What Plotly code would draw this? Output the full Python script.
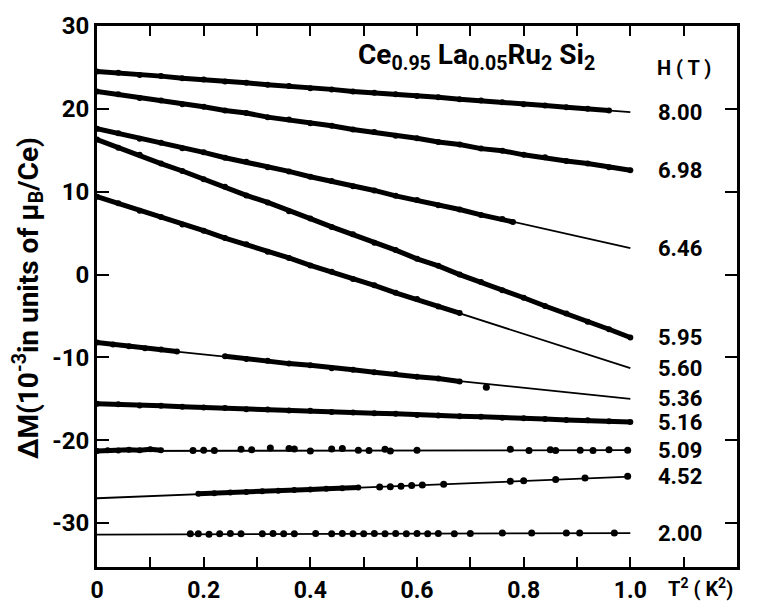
import plotly.graph_objects as go

# ---------------- data ----------------
fields = ["8.00", "6.98", "6.46", "5.95", "5.60", "5.36", "5.16", "5.09", "4.52", "2.00"]
fit_y0 = [24.5, 22.1, 17.6, 16.3, 9.4, -8.3, -15.6, -21.3, -27.0, -31.4]   # fit line at T^2 = 0
fit_y1 = [19.6, 12.6, 3.2, -7.6, -11.3, -15.0, -17.8, -21.2, -24.4, -31.2]  # fit line at T^2 = 1

# dense measured bands
h800_x = [0.00, 0.04, 0.08, 0.12, 0.16, 0.20, 0.24, 0.28, 0.32, 0.36, 0.40, 0.44, 0.48,
          0.52, 0.56, 0.60, 0.64, 0.68, 0.72, 0.76, 0.80, 0.84, 0.88, 0.92, 0.96]
h800_y = [24.5, 24.35, 24.1, 23.95, 23.7, 23.55, 23.3, 23.15, 22.9, 22.75, 22.5, 22.35, 22.1,
          21.95, 21.75, 21.55, 21.4, 21.15, 21.0, 20.8, 20.55, 20.4, 20.2, 20.0, 19.8]

h698_x = [0.00, 0.04, 0.08, 0.12, 0.16, 0.20, 0.24, 0.28, 0.32, 0.36, 0.40, 0.44, 0.48,
          0.52, 0.56, 0.60, 0.64, 0.68, 0.72, 0.76, 0.80, 0.84, 0.88, 0.92, 0.96, 1.00]
h698_y = [22.1, 21.75, 21.3, 21.0, 20.55, 20.25, 19.8, 19.5, 19.0, 18.7, 18.25, 17.95, 17.5,
          17.2, 16.75, 16.45, 16.0, 15.7, 15.2, 14.95, 14.45, 14.15, 13.7, 13.4, 12.95, 12.6]

h646_x = [0.00, 0.04, 0.08, 0.12, 0.16, 0.20, 0.24, 0.28, 0.32, 0.36, 0.40, 0.44, 0.48,
          0.52, 0.56, 0.60, 0.64, 0.68, 0.72, 0.76, 0.78]
h646_y = [17.6, 17.05, 16.4, 15.9, 15.25, 14.75, 14.1, 13.6, 12.95, 12.45, 11.8, 11.3, 10.65,
          10.15, 9.5, 9.0, 8.35, 7.85, 7.2, 6.7, 6.35]

h595_x = [0.00, 0.04, 0.08, 0.12, 0.16, 0.20, 0.24, 0.28, 0.32, 0.36, 0.40, 0.44, 0.48,
          0.52, 0.56, 0.60, 0.64, 0.68, 0.72, 0.76, 0.80, 0.84, 0.88, 0.92, 0.96, 1.00]
h595_y = [16.3, 15.3, 14.45, 13.4, 12.5, 11.5, 10.6, 9.55, 8.7, 7.65, 6.75, 5.75, 4.85,
          3.85, 2.95, 1.9, 1.05, 0.0, -0.9, -1.9, -2.8, -3.8, -4.7, -5.7, -6.6, -7.6]

h560_x = [0.00, 0.04, 0.08, 0.12, 0.16, 0.20, 0.24, 0.28, 0.32, 0.36, 0.40, 0.44, 0.48,
          0.52, 0.56, 0.60, 0.64, 0.68]
h560_y = [9.4, 8.6, 7.7, 6.95, 6.05, 5.3, 4.4, 3.65, 2.75, 2.0, 1.1, 0.35, -0.55,
          -1.3, -2.2, -2.95, -3.85, -4.65]

h536_x = [0.00, 0.03, 0.06, 0.09, 0.12, 0.15, None, 0.24, 0.28, 0.32, 0.36, 0.40, 0.44,
          0.48, 0.52, 0.56, 0.60, 0.64, 0.68]
h536_y = [-8.2, -8.45, -8.65, -8.9, -9.05, -9.3, None, -9.85, -10.2, -10.4, -10.75, -10.95, -11.3,
          -11.5, -11.8, -12.0, -12.35, -12.55, -12.9]
h536_out_x = [0.73]
h536_out_y = [-13.6]

h516_x = [0.00, 0.04, 0.08, 0.12, 0.16, 0.20, 0.24, 0.28, 0.32, 0.36, 0.40, 0.44, 0.48,
          0.52, 0.56, 0.60, 0.64, 0.68, 0.72, 0.76, 0.80, 0.84, 0.88, 0.92, 0.96, 1.00]
h516_y = [-15.6, -15.65, -15.8, -15.85, -15.95, -16.05, -16.1, -16.25, -16.3, -16.4, -16.45, -16.6, -16.65,
          -16.75, -16.8, -16.95, -17.0, -17.1, -17.15, -17.3, -17.35, -17.45, -17.55, -17.6, -17.7, -17.8]

h509_x = [0.00, 0.02, 0.04, 0.06, 0.08, 0.10, 0.12]
h509_y = [-21.3, -21.2, -21.25, -21.15, -21.2, -21.1, -21.2]
h509_sx = [0.18, 0.20, 0.22, 0.27, 0.29, 0.325, 0.36, 0.37, 0.40, 0.44, 0.46, 0.49, 0.51,
           0.54, 0.55, 0.60, 0.775, 0.81, 0.85, 0.86, 0.906, 0.93, 0.96, 0.995]
h509_sy = [-21.25, -21.2, -21.25, -21.1, -21.15, -20.95, -21.0, -21.05, -21.3, -21.05, -21.0, -21.2, -21.25,
           -21.1, -21.3, -21.2, -21.1, -21.25, -21.15, -21.25, -21.2, -21.25, -21.15, -21.2]

h452_x = [0.19, 0.22, 0.25, 0.28, 0.31, 0.34, 0.37, 0.40, 0.43, 0.46, 0.49]
h452_y = [-26.45, -26.4, -26.3, -26.25, -26.15, -26.1, -26.0, -25.95, -25.85, -25.8, -25.7]
h452_sx = [0.53, 0.55, 0.57, 0.59, 0.61, 0.65, 0.775, 0.80, 0.86, 0.915, 0.995]
h452_sy = [-25.65, -25.6, -25.55, -25.45, -25.4, -25.3, -24.95, -24.9, -24.75, -24.55, -24.35]

h200_sx = [0.175, 0.19, 0.21, 0.23, 0.25, 0.27, 0.31, 0.33, 0.35, 0.37, 0.41, 0.44, 0.46,
           0.48, 0.50, 0.52, 0.54, 0.56, 0.58, 0.60, 0.62, 0.64, 0.67, 0.70, 0.76, 0.815,
           0.88, 0.905, 0.97]
h200_sy = [-31.3, -31.3, -31.35, -31.3, -31.25, -31.3, -31.3, -31.25, -31.3, -31.3, -31.25, -31.3, -31.25,
           -31.3, -31.3, -31.25, -31.3, -31.25, -31.3, -31.25, -31.3, -31.25, -31.3, -31.25, -31.2, -31.2,
           -31.2, -31.2, -31.2]

x_tickvals = [0, 0.1, 0.2, 0.3, 0.4, 0.5, 0.6, 0.7, 0.8, 0.9, 1.0, 1.1]
x_ticktext = ["0", "", "0.2", "", "0.4", "", "0.6", "", "0.8", "", "1.0", ""]
y_tickvals = [30, 20, 10, 0, -10, -20, -30]
y_ticktext = ["30", "20", "10", "0", "-10", "-20", "-30"]

# ---------------- figure ----------------
FONT = "Roboto"
fig = go.Figure()

# fitted straight lines
for name, a, b in zip(fields, fit_y0, fit_y1):
    fig.add_trace(go.Scatter(x=[0, 1.0], y=[a, b], mode="lines",
                             line=dict(color="black", width=1.8), hoverinfo="skip", name=name))

dense = [(h800_x, h800_y), (h698_x, h698_y), (h646_x, h646_y), (h595_x, h595_y),
         (h560_x, h560_y), (h536_x, h536_y), (h516_x, h516_y), (h509_x, h509_y),
         (h452_x, h452_y)]
for xs, ys in dense:
    fig.add_trace(go.Scatter(x=xs, y=ys, mode="lines+markers", connectgaps=False,
                             line=dict(color="black", width=5),
                             marker=dict(color="black", size=6)))

sparse = [(h536_out_x, h536_out_y), (h509_sx, h509_sy), (h452_sx, h452_sy), (h200_sx, h200_sy)]
for xs, ys in sparse:
    fig.add_trace(go.Scatter(x=xs, y=ys, mode="markers",
                             marker=dict(color="black", size=7)))

# field labels at right
for name, b in zip(fields, fit_y1):
    fig.add_annotation(x=1.048, y=b, xref="x", yref="y", text=name, showarrow=False,
                       xanchor="left", yanchor="middle",
                       font=dict(family=FONT, size=22, color="black", weight="bold"))

fig.add_annotation(x=1.046, y=0.9225, xref="x", yref="paper", text="H ( T )",
                   showarrow=False, xanchor="left", yanchor="middle",
                   font=dict(family=FONT, size=20, color="black", weight="bold"))
fig.add_annotation(x=0.405, y=0.944, xref="paper", yref="paper",
                   text="Ce<sub>0.95</sub> La<sub>0.05</sub>Ru<sub>2</sub> Si<sub>2</sub>",
                   showarrow=False, xanchor="left", yanchor="middle",
                   font=dict(family=FONT, size=28, color="black", weight="bold"))
fig.add_annotation(x=-0.108, y=0.497, xref="paper", yref="paper",
                   text="ΔM(10<sup>-3</sup>in units of μ<sub>B</sub>/Ce)",
                   textangle=-90, showarrow=False, xanchor="center", yanchor="middle",
                   font=dict(family=FONT, size=28, color="black", weight="bold"))
fig.add_annotation(x=1.066, y=0, xref="x", yref="paper",
                   text="T<sup>2</sup> ( K<sup>2</sup>)", showarrow=False,
                   xanchor="left", yanchor="top", yshift=-6,
                   font=dict(family=FONT, size=20, color="black", weight="bold"))

fig.update_xaxes(range=[0, 1.2], tickvals=x_tickvals, ticktext=x_ticktext,
                 ticks="inside", ticklen=10, tickwidth=2, tickcolor="black",
                 showline=True, linewidth=3, linecolor="black", mirror="ticks",
                 showgrid=False, zeroline=False,
                 tickfont=dict(family=FONT, size=23, color="black", weight="bold"))
fig.update_yaxes(range=[-35.3, 30], tickvals=y_tickvals, ticktext=y_ticktext,
                 ticks="inside", ticklen=12, tickwidth=2, tickcolor="black",
                 showline=True, linewidth=3, linecolor="black", mirror="ticks",
                 showgrid=False, zeroline=False,
                 tickfont=dict(family=FONT, size=24, color="black", weight="bold"))

fig.update_layout(width=762, height=616, margin=dict(l=97, r=25, t=15, b=46),
                  paper_bgcolor="white", plot_bgcolor="white", showlegend=False)

fig.write_html("out.html")
